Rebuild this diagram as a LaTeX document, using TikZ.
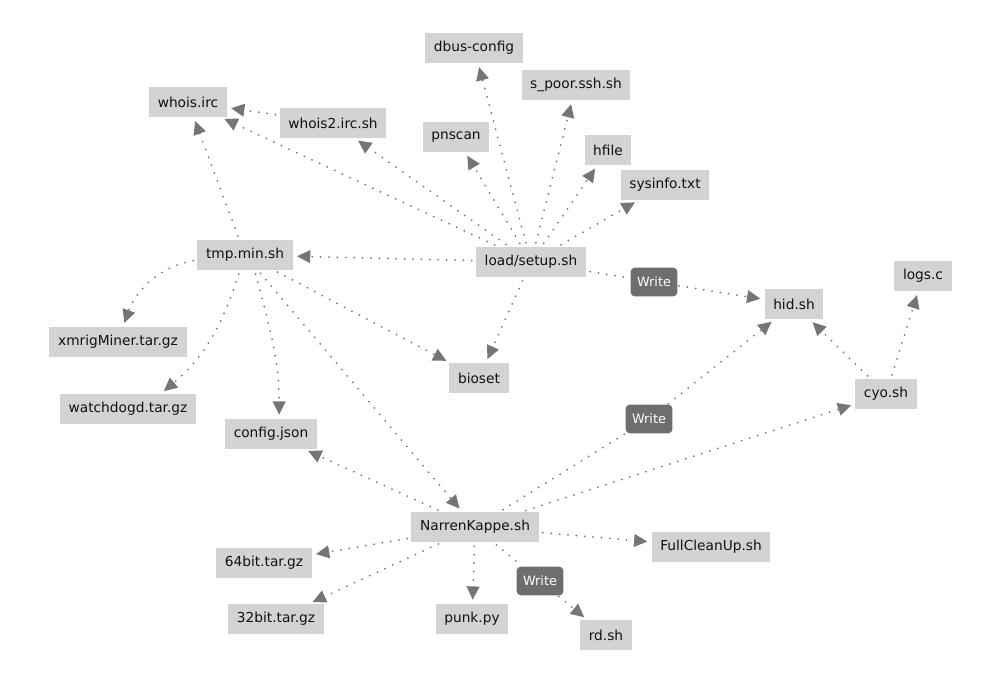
\documentclass[tikz,border=0pt]{standalone}
\usepackage{fontspec}
\setmainfont{DejaVu Sans}
\usetikzlibrary{arrows.meta}
\definecolor{boxgray}{HTML}{D3D3D3}
\definecolor{edgegray}{HTML}{757575}
\definecolor{lblgray}{HTML}{6E6E6E}
\definecolor{txt}{HTML}{111111}
\begin{document}
\begin{tikzpicture}[x=0.75pt,y=-0.75pt,
 nd/.style={fill=boxgray, text=txt, font=\fontsize{10.3}{11}\selectfont, minimum height=22.5pt, inner xsep=6.5pt, inner ysep=0pt},
 lbl/.style={fill=lblgray, text=white, rounded corners=3pt, font=\fontsize{9.6}{10}\selectfont, minimum height=21.5pt, minimum width=35pt, inner xsep=3pt, inner ysep=0pt},
 edge/.style={draw=edgegray, line width=1.5pt, dash pattern=on 0pt off 6.3pt, line cap=round, -{Triangle[length=10pt,width=9.5pt]}, shorten >=3pt, shorten <=3pt},
 seg/.style={draw=edgegray, line width=1.5pt, dash pattern=on 0pt off 6.3pt, line cap=round, shorten <=3pt, shorten >=1pt}
]
\useasboundingbox (0,0) rectangle (1007,691);
% nodes
\node[nd] (dbus) at (474,48) {dbus-config};
\node[nd] (spoor) at (576,85) {s\_poor.ssh.sh};
\node[nd] (whois) at (188,102) {whois.irc};
\node[nd] (whois2) at (333,123) {whois2.irc.sh};
\node[nd] (pnscan) at (456,137) {pnscan};
\node[nd] (hfile) at (608,150) {hfile};
\node[nd] (sysinfo) at (665,185) {sysinfo.txt};
\node[nd] (tmp) at (245,255) {tmp.min.sh};
\node[nd] (load) at (531,262) {load/setup.sh};
\node[nd] (logs) at (923,276) {logs.c};
\node[nd] (hid) at (794,304) {hid.sh};
\node[nd] (xmrig) at (118,342) {xmrigMiner.tar.gz};
\node[nd] (bioset) at (479,378) {bioset};
\node[nd] (cyo) at (886,394) {cyo.sh};
\node[nd] (watch) at (128,409) {watchdogd.tar.gz};
\node[nd] (config) at (271,434) {config.json};
\node[nd] (narren) at (475,527) {NarrenKappe.sh};
\node[nd] (full) at (711,547) {FullCleanUp.sh};
\node[nd] (b64) at (264,563) {64bit.tar.gz};
\node[nd] (b32) at (276,619) {32bit.tar.gz};
\node[nd] (punk) at (472,619) {punk.py};
\node[nd] (rd) at (606,635) {rd.sh};
% labels
\node[lbl] (w1) at (654,282) {Write};
\node[lbl] (w2) at (649,419) {Write};
\node[lbl] (w3) at (540,581) {Write};
% edges from load/setup.sh
\draw[edge] (load) -- (dbus);
\draw[edge] (load) -- (spoor);
\draw[edge] (load) -- (pnscan);
\draw[edge] (load) -- (hfile);
\draw[edge] (load) -- (sysinfo);
\draw[edge] (load) -- (whois2);
\draw[edge] (load) -- (whois);
\draw[edge] (load) -- (tmp);
\draw[edge] (load) -- (bioset);
\draw[seg] (load) -- (w1);
\draw[edge, shorten <=1pt] (w1) -- (hid);
% other edges
\draw[edge] (whois2) -- (whois);
\draw[edge] (tmp) -- (whois);
\draw[edge] (tmp.186) to[out=190,in=70] (xmrig.72);
\draw[edge] (tmp.252) to[out=252,in=40] (watch.25);
\draw[edge] (tmp.-58) to[out=285,in=90] (config.62);
\draw[edge] (tmp) -- (narren);
\draw[edge] (tmp) -- (bioset);
\draw[edge] (narren) -- (config);
\draw[seg] (narren) -- (w2);
\draw[edge, shorten <=1pt] (w2) -- (hid);
\draw[edge] (narren) -- (cyo);
\draw[edge] (narren) -- (full);
\draw[edge] (narren) -- (b64);
\draw[edge] (narren) -- (b32);
\draw[edge] (narren) -- (punk);
\draw[seg] (narren) -- (w3);
\draw[edge, shorten <=1pt] (w3) -- (rd);
\draw[edge] (cyo) -- (hid);
\draw[edge] (cyo) -- (logs);
\end{tikzpicture}
\end{document}
